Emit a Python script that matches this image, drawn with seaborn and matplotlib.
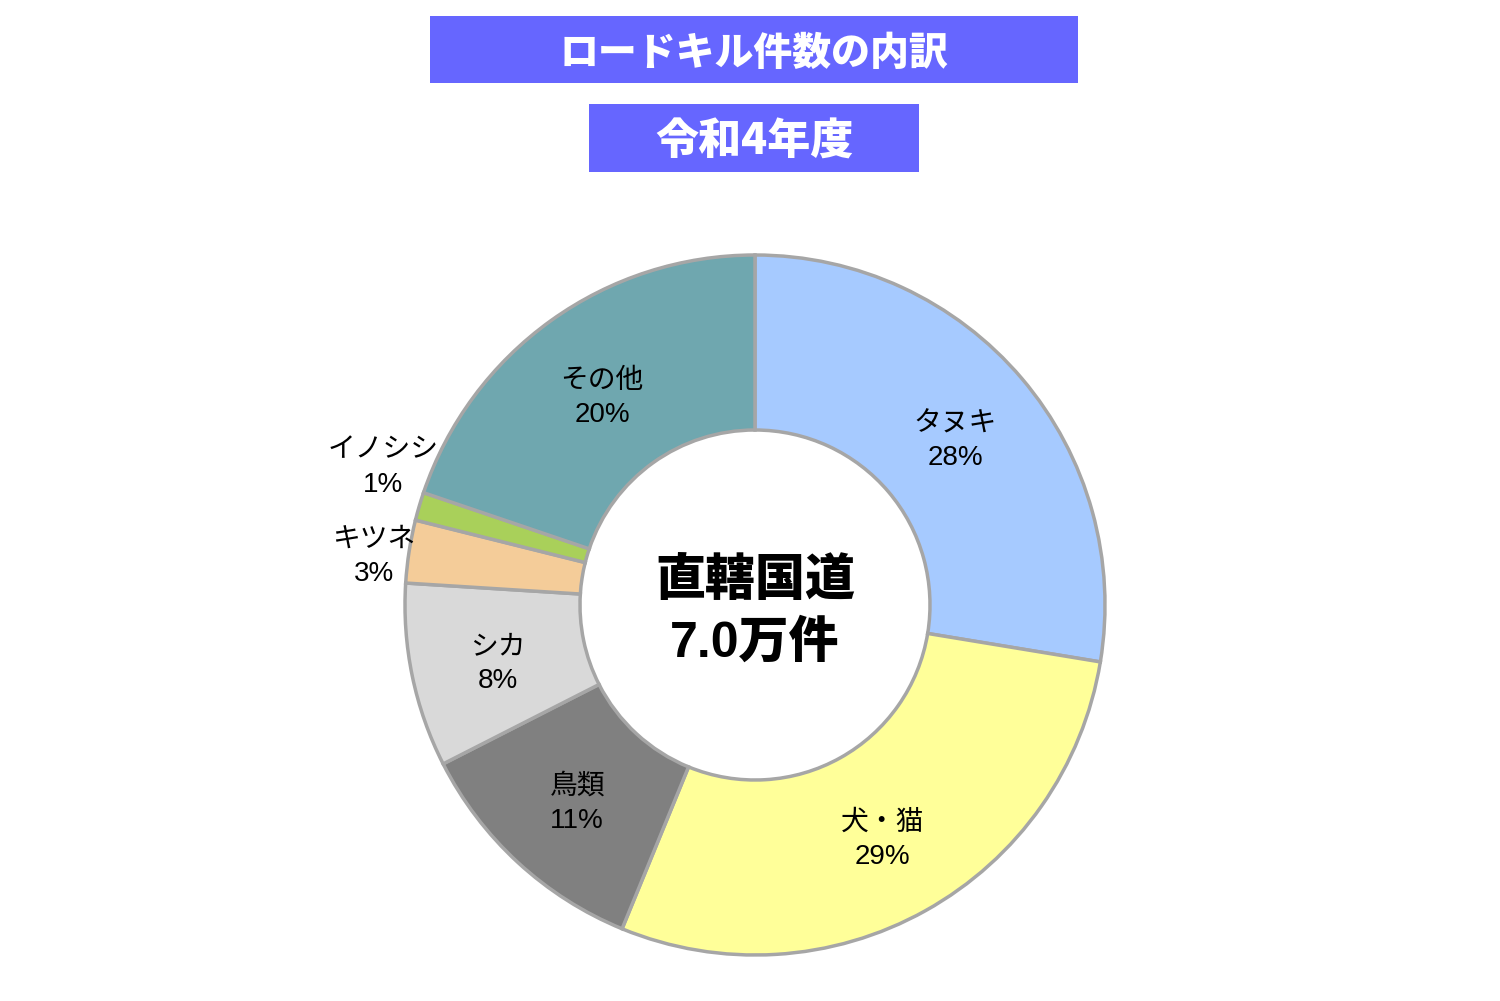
import numpy as np
import seaborn as sns
import matplotlib.pyplot as plt
from matplotlib.patches import Rectangle

# data (slice sizes, labels as printed)
categories = ["タヌキ", "犬・猫", "鳥類", "シカ", "キツネ", "イノシシ", "その他"]
shares = [27.6, 28.6, 11.3, 8.5, 2.9, 1.3, 19.8]
pct_labels = ["28%", "29%", "11%", "8%", "3%", "1%", "20%"]
colors = ["#A6CAFF", "#FFFF99", "#808080", "#D9D9D9", "#F4CC99", "#A9D05A", "#6FA7AF"]
title_text = "ロードキル件数の内訳"
year_text = "令和4年度"
center_lines = ["直轄国道", "7.0万件"]

sns.set_theme(style="white")
plt.rcParams['font.family'] = ['Liberation Sans', 'Noto Sans CJK JP', 'DejaVu Sans']

W, H = 1500, 1001
fig = plt.figure(figsize=(15, 10.01), dpi=100)
ax = fig.add_axes([0, 0, 1, 1])
ax.set_aspect('equal')
ax.axis('off')

cx, cy = 755, H - 605
R_out, R_in = 350, 175

wedges, _ = ax.pie(shares, colors=colors, startangle=90, counterclock=False,
                   radius=R_out, center=(cx, cy),
                   wedgeprops=dict(width=R_out - R_in, edgecolor="#A6A6A6", linewidth=2.5))
ax.set_xlim(0, W)
ax.set_ylim(0, H)

# labels: inside the ring, the two small slices outside
outside = {"キツネ": (386, -11), "イノシシ": (388, 28)}
for w, name, lab in zip(wedges, categories, pct_labels):
    mid = np.deg2rad((w.theta1 + w.theta2) / 2)
    if name in outside:
        r, dy = outside[name]
    else:
        r, dy = (R_out + R_in) / 2, -6
    x = cx + r * np.cos(mid)
    y = cy + r * np.sin(mid) + dy
    ax.text(x, y, f"{name}\n{lab}", ha="center", va="center", fontsize=20,
            linespacing=1.4, color="black")

# center text
ax.text(cx, cy + 25, center_lines[0], ha="center", va="center", fontsize=36,
        fontweight="heavy", color="black", family=['Noto Sans CJK JP'])
ax.text(cx, cy - 38, center_lines[1], ha="center", va="center", fontsize=36,
        fontweight="heavy", color="black", family=['Liberation Sans', 'Noto Sans CJK JP'])

# title boxes
box_color = "#6666FF"
ax.add_patch(Rectangle((430, H - 83), 648, 67, facecolor=box_color, edgecolor="none"))
ax.text(754, H - 53, title_text, ha="center", va="center", fontsize=28,
        fontweight="heavy", color="white", family=['Noto Sans CJK JP'])
ax.add_patch(Rectangle((589, H - 172), 330, 68, facecolor=box_color, edgecolor="none"))
ax.text(754, H - 142, year_text, ha="center", va="center", fontsize=31,
        fontweight="heavy", color="white", family=['Noto Sans CJK JP'])

fig.savefig("out.png", dpi=100)
